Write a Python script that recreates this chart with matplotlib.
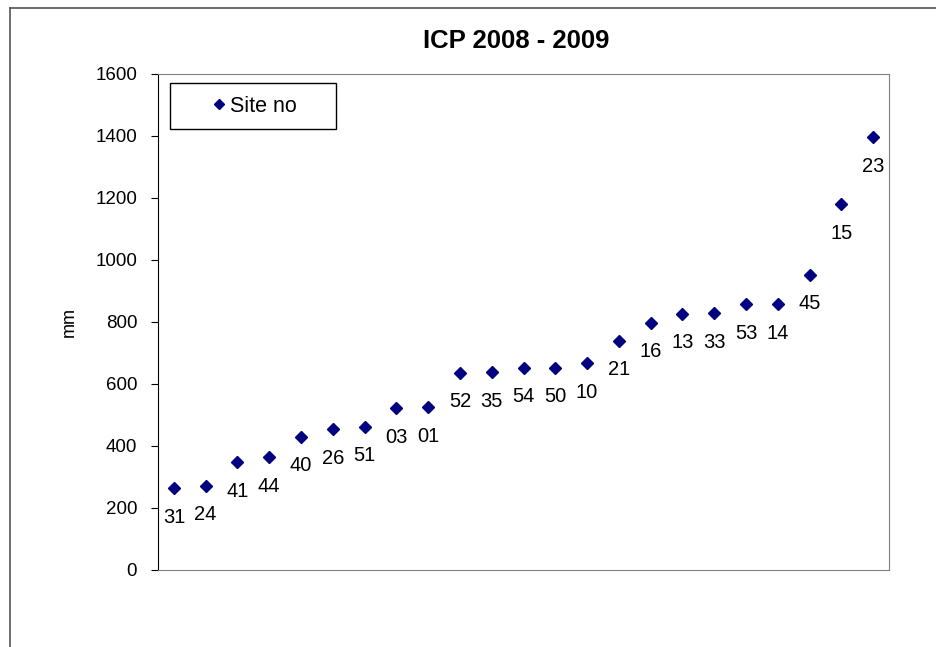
import matplotlib
matplotlib.use("Agg")
import matplotlib.pyplot as plt
from matplotlib.lines import Line2D
from matplotlib.patches import Rectangle

plt.rcParams['font.family'] = ['Liberation Sans', 'DejaVu Sans']

sites = ["31", "24", "41", "44", "40", "26", "51", "03", "01", "52", "35", "54",
         "50", "10", "21", "16", "13", "33", "53", "14", "45", "15", "23"]
values = [264, 271, 348, 364, 429, 454, 461, 522, 525, 635, 638, 651,
          651, 667, 738, 796, 825, 828, 857, 857, 951, 1179, 1395]
yticks = [0, 200, 400, 600, 800, 1000, 1200, 1400, 1600]

W, H = 936, 647
fig = plt.figure(figsize=(W/100, H/100), dpi=100)
ax = fig.add_axes([158/W, 1 - 570/H, (889 - 158)/W, (570 - 73.5)/H])

xs = list(range(1, len(values) + 1))
ax.plot(xs, values, linestyle='none', marker='D', markersize=6,
        color='#000080', label='Site no')
for x, v, s in zip(xs, values, sites):
    ax.annotate(s, (x, v), xytext=(0, -29), textcoords='offset pixels',
                ha='center', va='center', fontsize=14.5, color='black')

ax.set_xlim(0.5, len(values) + 0.5)
ax.set_ylim(0, 1600)
ax.set_yticks(yticks)
ax.set_xticks([])
ax.tick_params(axis='y', direction='out', length=5, labelsize=13.5, pad=10)
ax.set_ylabel('mm', fontsize=13)
ax.yaxis.set_label_coords((78 - 158)/731, 0.5)

ax.spines['left'].set_color('black')
for sp in ['top', 'right', 'bottom']:
    ax.spines[sp].set_color('#808080')

# legend box
ax.add_patch(Rectangle((170/W, 1 - 129/H), (336 - 170)/W, (129 - 83)/H,
                       transform=fig.transFigure, fill=True, facecolor='white',
                       edgecolor='black', linewidth=1.0, zorder=5, clip_on=False))
leg = ax.legend(loc='center', bbox_to_anchor=(255/W, 1 - 106/H),
                bbox_transform=fig.transFigure, frameon=False, fontsize=15.5,
                handlelength=0.5, handletextpad=0.25, markerscale=0.85)
leg.set_zorder(6)

fig.text(516/W, 1 - 48/H, 'ICP 2008 - 2009', ha='center', va='baseline',
         fontsize=18.5, fontweight='bold')

fig.add_artist(Line2D([10/W, 10/W], [0, 1 - 8/H], transform=fig.transFigure,
                      color='#555555', linewidth=1.2))
fig.add_artist(Line2D([10/W, 1], [1 - 8/H, 1 - 8/H], transform=fig.transFigure,
                      color='#555555', linewidth=1.2))

fig.savefig('out.png', dpi=100)
